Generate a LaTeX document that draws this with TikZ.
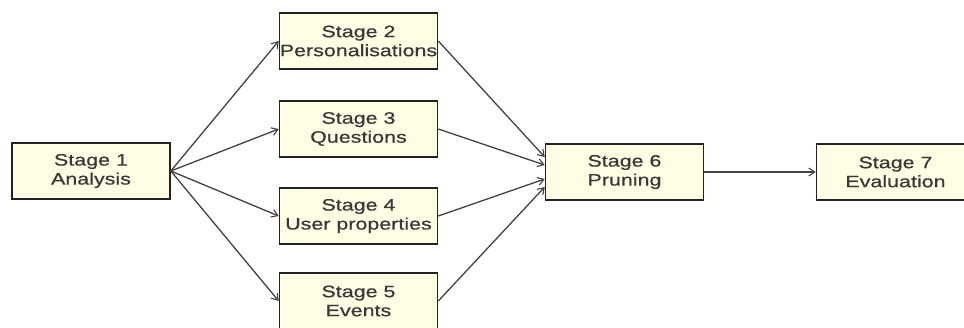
\documentclass[tikz,border=0pt]{standalone}
\usepackage{fontspec}
\newfontfamily\boxfont{Liberation Sans}[FakeStretch=1.3,FakeBold=0.6]
\usetikzlibrary{arrows.meta,calc}
\definecolor{boxfill}{HTML}{FFFDE4}
\definecolor{boxline}{HTML}{222222}
\definecolor{boxtext}{HTML}{383838}
\definecolor{flowline}{HTML}{424242}
\tikzset{
  stagebox/.style={draw=boxline, line width=1.6pt, fill=boxfill,
    minimum width=158pt, minimum height=56pt, inner sep=0pt,
    align=center, text=boxtext,
    font=\boxfont\fontsize{16.5}{19}\selectfont},
  flow/.style={draw=flowline, line width=1.3pt,
    -{Straight Barb[length=6pt,width=8pt,line width=1.1pt]}}
}
\begin{document}
\begin{tikzpicture}[x=1pt,y=-1pt]
  \clip (0,0) rectangle (964,327);
  \useasboundingbox (0,0) rectangle (964,327);
  \fill[white] (0,0) rectangle (964,327);

  % stage boxes
  \node[stagebox] (s1) at (91,171)    {Stage 1\\Analysis};
  \node[stagebox] (s2) at (358.5,41)  {Stage 2\\Personalisations};
  \node[stagebox] (s3) at (358.5,129) {Stage 3\\Questions};
  \node[stagebox] (s4) at (358.5,216) {Stage 4\\User properties};
  \node[stagebox] (s5) at (358.5,301) {Stage 5\\Events};
  \node[stagebox] (s6) at (624.5,172) {Stage 6\\Pruning};
  \node[stagebox] (s7) at (895.5,172) {Stage 7\\Evaluation};

  % entry points on the left side of stage 6
  \coordinate (in2) at ($(s6.west)+(0,-15)$);
  \coordinate (in3) at ($(s6.west)+(0,-7)$);
  \coordinate (in4) at ($(s6.west)+(0,7)$);
  \coordinate (in5) at ($(s6.west)+(0,15)$);

  % fan out from the analysis stage
  \draw[flow] (s1.east) -- (s2.west);
  \draw[flow] (s1.east) -- (s3.west);
  \draw[flow] (s1.east) -- (s4.west);
  \draw[flow] (s1.east) -- (s5.west);

  % fan in to the pruning stage
  \draw[flow] (s2.east) -- (in2);
  \draw[flow] (s3.east) -- (in3);
  \draw[flow] (s4.east) -- (in4);
  \draw[flow] (s5.east) -- (in5);

  \draw[flow] (s6.east) -- (s7.west);
\end{tikzpicture}
\end{document}
